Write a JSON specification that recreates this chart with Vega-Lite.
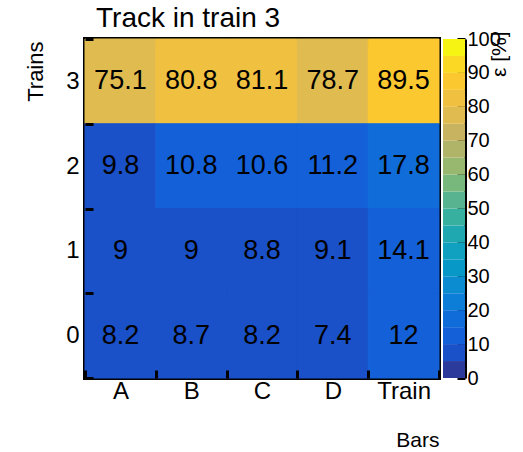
{
  "$schema": "https://vega.github.io/schema/vega-lite/v6.json",
  "background": "white",
  "padding": {"left": 22, "top": 3, "right": 5, "bottom": 0},
  "spacing": 0,
  "config": {
    "font": "Liberation Sans",
    "axis": {"labelFont": "Liberation Sans", "titleFont": "Liberation Sans", "labelColor": "black", "titleColor": "black", "titleFontWeight": "normal", "tickColor": "black", "domainColor": "black", "grid": false},
    "title": {"font": "Liberation Sans", "fontWeight": "normal", "color": "black"}
  },
  "hconcat": [
    {
      "width": 354,
      "height": 339,
      "view": {"stroke": "black", "strokeWidth": 4},
      "title": {"text": "Track in train 3", "anchor": "start", "frame": "group", "fontSize": 28, "dx": 11, "offset": -6},
      "data": {"values": [
        {"bar": "A", "train": 3, "v": 75.1}, {"bar": "B", "train": 3, "v": 80.8}, {"bar": "C", "train": 3, "v": 81.1}, {"bar": "D", "train": 3, "v": 78.7}, {"bar": "Train", "train": 3, "v": 89.5},
        {"bar": "A", "train": 2, "v": 9.8}, {"bar": "B", "train": 2, "v": 10.8}, {"bar": "C", "train": 2, "v": 10.6}, {"bar": "D", "train": 2, "v": 11.2}, {"bar": "Train", "train": 2, "v": 17.8},
        {"bar": "A", "train": 1, "v": 9}, {"bar": "B", "train": 1, "v": 9}, {"bar": "C", "train": 1, "v": 8.8}, {"bar": "D", "train": 1, "v": 9.1}, {"bar": "Train", "train": 1, "v": 14.1},
        {"bar": "A", "train": 0, "v": 8.2}, {"bar": "B", "train": 0, "v": 8.7}, {"bar": "C", "train": 0, "v": 8.2}, {"bar": "D", "train": 0, "v": 7.4}, {"bar": "Train", "train": 0, "v": 12}
      ]},
      "layer": [
        {
          "mark": {"type": "rect", "strokeWidth": 1},
          "encoding": {
            "x": {"field": "bar", "type": "nominal", "sort": ["A", "B", "C", "D", "Train"], "scale": {"paddingInner": 0, "paddingOuter": 0},
              "axis": {"orient": "bottom", "title": "Bars", "titleAnchor": "end", "titleFontSize": 21, "titlePadding": 26, "labelFontSize": 24, "labelAngle": 0, "tickBand": "extent", "tickSize": -8, "tickWidth": 3, "labelPadding": 9, "domain": false}},
            "y": {"field": "train", "type": "ordinal", "sort": "descending", "scale": {"paddingInner": 0, "paddingOuter": 0},
              "axis": {"orient": "left", "title": "Trains", "titleY": 2, "titleAlign": "right", "titleFontSize": 22, "titlePadding": 18, "labelFontSize": 24, "labelAngle": 0, "tickBand": "extent", "tickSize": -8, "tickWidth": 3, "labelPadding": 14, "domain": false}},
            "color": {"field": "v", "type": "quantitative",
              "scale": {"type": "quantize", "domain": [0, 100], "nice": false, "zero": false,
                "range": ["#2c3a9c", "#1a50c8", "#1460d8", "#106cd8", "#0c7ed8", "#0c8cd0", "#0898c8", "#10a0c0", "#20a8b0", "#38b0a0", "#58b490", "#78b87c", "#98b870", "#b0b468", "#c8b460", "#e0bc50", "#f0c040", "#fcc830", "#fad824", "#f6f412"]},
              "legend": null},
            "stroke": {"field": "v", "type": "quantitative",
              "scale": {"type": "quantize", "domain": [0, 100], "nice": false, "zero": false,
                "range": ["#2c3a9c", "#1a50c8", "#1460d8", "#106cd8", "#0c7ed8", "#0c8cd0", "#0898c8", "#10a0c0", "#20a8b0", "#38b0a0", "#58b490", "#78b87c", "#98b870", "#b0b468", "#c8b460", "#e0bc50", "#f0c040", "#fcc830", "#fad824", "#f6f412"]},
              "legend": null}
          }
        },
        {
          "mark": {"type": "text", "fontSize": 27, "font": "Liberation Sans", "color": "black"},
          "encoding": {
            "x": {"field": "bar", "type": "nominal", "sort": ["A", "B", "C", "D", "Train"],
              "axis": {"orient": "top", "title": null, "labels": false, "tickBand": "extent", "tickSize": -8, "tickWidth": 3, "domain": false}},
            "y": {"field": "train", "type": "ordinal", "sort": "descending",
              "axis": {"orient": "right", "title": null, "labels": false, "tickBand": "extent", "tickSize": -8, "tickWidth": 3, "domain": false, "minExtent": 0}},
            "text": {"field": "v", "type": "nominal"}
          }
        }
      ],
      "resolve": {"axis": {"x": "independent", "y": "independent"}}
    },
    {
      "width": 22,
      "height": 339,
      "view": {"stroke": null},
      "data": {"values": [
        {"lo": 0, "hi": 5}, {"lo": 5, "hi": 10}, {"lo": 10, "hi": 15}, {"lo": 15, "hi": 20}, {"lo": 20, "hi": 25},
        {"lo": 25, "hi": 30}, {"lo": 30, "hi": 35}, {"lo": 35, "hi": 40}, {"lo": 40, "hi": 45}, {"lo": 45, "hi": 50},
        {"lo": 50, "hi": 55}, {"lo": 55, "hi": 60}, {"lo": 60, "hi": 65}, {"lo": 65, "hi": 70}, {"lo": 70, "hi": 75},
        {"lo": 75, "hi": 80}, {"lo": 80, "hi": 85}, {"lo": 85, "hi": 90}, {"lo": 90, "hi": 95}, {"lo": 95, "hi": 100}
      ]},
      "mark": {"type": "rect"},
      "encoding": {
        "y": {"field": "lo", "type": "quantitative", "scale": {"domain": [0, 100], "nice": false, "zero": false},
          "axis": {"orient": "right", "values": [0, 10, 20, 30, 40, 50, 60, 70, 80, 90, 100], "tickSize": -8, "tickWidth": 3, "domainWidth": 3, "labelPadding": 10, "labelFontSize": 20, "title": "ε [%]", "titleFontSize": 21, "titleAngle": -90, "titleAnchor": "end", "titleY": -8, "titleAlign": "right", "titlePadding": 9}},
        "y2": {"field": "hi"},
        "color": {"field": "lo", "type": "quantitative",
          "scale": {"type": "quantize", "domain": [0, 100], "nice": false, "zero": false,
            "range": ["#2c3a9c", "#1a50c8", "#1460d8", "#106cd8", "#0c7ed8", "#0c8cd0", "#0898c8", "#10a0c0", "#20a8b0", "#38b0a0", "#58b490", "#78b87c", "#98b870", "#b0b468", "#c8b460", "#e0bc50", "#f0c040", "#fcc830", "#fad824", "#f6f412"]},
          "legend": null}
      }
    }
  ],
  "resolve": {"scale": {"color": "independent"}}
}
